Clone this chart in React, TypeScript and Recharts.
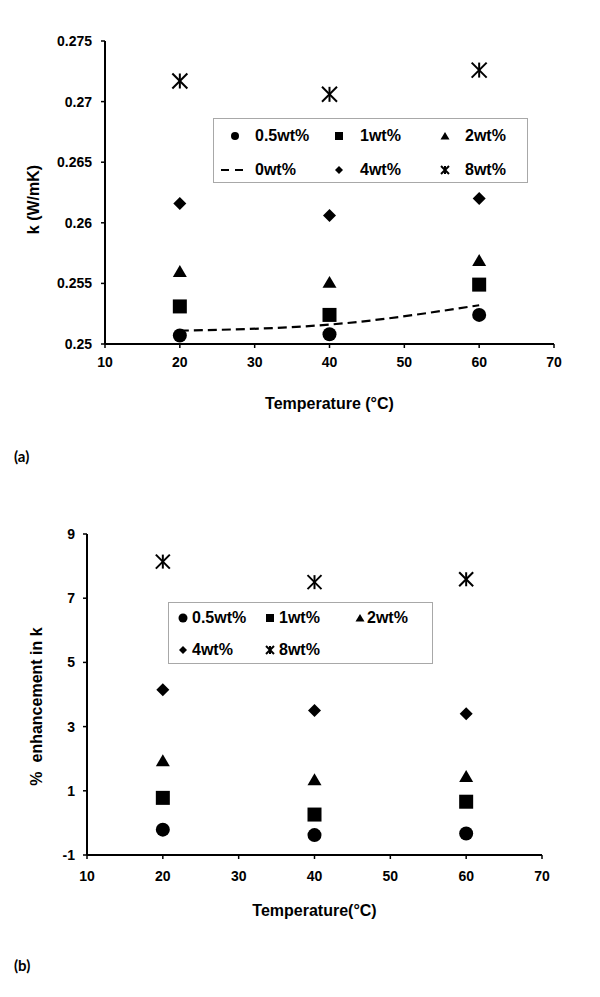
import React from "react";
import { ComposedChart, Scatter, Line, XAxis, YAxis } from "recharts";

const temps = [20, 40, 60];
const xTicks = [10, 20, 30, 40, 50, 60, 70];

// (a) thermal conductivity k (W/mK)
const kZero = [0.2511, 0.2516, 0.2532];
const kHalf = [0.2507, 0.2508, 0.2524];
const kOne = [0.2531, 0.2524, 0.2549];
const kTwo = [0.256, 0.2551, 0.2569];
const kFour = [0.2616, 0.2606, 0.262];
const kEight = [0.2717, 0.2706, 0.2726];
const kTicks = [0.25, 0.255, 0.26, 0.265, 0.27, 0.275];

// (b) % enhancement in k
const enHalf = [-0.21, -0.38, -0.33];
const enOne = [0.78, 0.26, 0.66];
const enTwo = [1.94, 1.35, 1.45];
const enFour = [4.15, 3.5, 3.4];
const enEight = [8.14, 7.5, 7.59];
const enTicks = [-1, 1, 3, 5, 7, 9];

const FONT = "'Liberation Sans', Arial, sans-serif";

const toPoints = (vals: number[]) => temps.map((t, i) => ({ t, v: vals[i] }));

type Kind = "circle" | "square" | "triangle" | "diamond" | "asterisk";

const mark = (kind: Kind, cx: number, cy: number, s: number) => {
  const h = s / 2;
  switch (kind) {
    case "circle":
      return <circle cx={cx} cy={cy} r={h} fill="#000" />;
    case "square":
      return <rect x={cx - h} y={cy - h} width={s} height={s} fill="#000" />;
    case "triangle":
      return (
        <polygon
          points={`${cx},${cy - s * 0.45} ${cx + h},${cy + s * 0.4} ${cx - h},${cy + s * 0.4}`}
          fill="#000"
        />
      );
    case "diamond":
      return <polygon points={`${cx},${cy - h} ${cx + h},${cy} ${cx},${cy + h} ${cx - h},${cy}`} fill="#000" />;
    default:
      return (
        <g stroke="#000" strokeWidth={2}>
          <line x1={cx - h} y1={cy - h} x2={cx + h} y2={cy + h} />
          <line x1={cx - h} y1={cy + h} x2={cx + h} y2={cy - h} />
          <line x1={cx} y1={cy - h} x2={cx} y2={cy + h} />
        </g>
      );
  }
};

const shapeOf = (kind: Kind, s: number) => (p: any) => mark(kind, p.cx, p.cy, s);

const tickStyle = { fill: "#000", fontSize: 14, fontWeight: 700, fontFamily: FONT };
const titleStyle = { fontSize: 16, fontWeight: 700, fontFamily: FONT, textAnchor: "middle" as const };

// rotated y-axis title, x from the left edge of the axis box, shifted down by dy
const yTitle = (text: string, dx: number, dy: number) => (props: any) => {
  const vb = props.viewBox || {};
  const x = vb.x + dx;
  const y = vb.y + vb.height / 2 + dy;
  return (
    <text
      x={x}
      y={y}
      transform={`rotate(-90 ${x} ${y})`}
      textAnchor="middle"
      dominantBaseline="central"
      fill="#000"
      fontSize={16}
      fontWeight={700}
      fontFamily={FONT}
      style={{ whiteSpace: "pre" }}
    >
      {text}
    </text>
  );
};

const seriesA: { name: string; kind: Kind; vals: number[]; size: number }[] = [
  { name: "0.5wt%", kind: "circle", vals: kHalf, size: 14 },
  { name: "1wt%", kind: "square", vals: kOne, size: 14 },
  { name: "2wt%", kind: "triangle", vals: kTwo, size: 14 },
  { name: "4wt%", kind: "diamond", vals: kFour, size: 13 },
  { name: "8wt%", kind: "asterisk", vals: kEight, size: 15 },
];

const seriesB: { name: string; kind: Kind; vals: number[]; size: number }[] = [
  { name: "0.5wt%", kind: "circle", vals: enHalf, size: 14 },
  { name: "1wt%", kind: "square", vals: enOne, size: 14 },
  { name: "2wt%", kind: "triangle", vals: enTwo, size: 14 },
  { name: "4wt%", kind: "diamond", vals: enFour, size: 13 },
  { name: "8wt%", kind: "asterisk", vals: enEight, size: 14 },
];

// legend rows/columns, positions relative to the legend box
type Entry = { label: string; kind: Kind | "dash"; mx: number; lx: number; y: number; s: number };

const legendA: Entry[] = [
  { label: "0.5wt%", kind: "circle", mx: 22, lx: 42, y: 18, s: 8 },
  { label: "1wt%", kind: "square", mx: 126, lx: 147, y: 18, s: 8 },
  { label: "2wt%", kind: "triangle", mx: 232, lx: 252, y: 18, s: 9 },
  { label: "0wt%", kind: "dash", mx: 20, lx: 42, y: 52, s: 8 },
  { label: "4wt%", kind: "diamond", mx: 126, lx: 147, y: 52, s: 8 },
  { label: "8wt%", kind: "asterisk", mx: 232, lx: 252, y: 52, s: 8 },
];

const legendB: Entry[] = [
  { label: "0.5wt%", kind: "circle", mx: 15, lx: 24, y: 16, s: 9 },
  { label: "1wt%", kind: "square", mx: 102, lx: 111, y: 16, s: 8 },
  { label: "2wt%", kind: "triangle", mx: 192, lx: 199, y: 16, s: 9 },
  { label: "4wt%", kind: "diamond", mx: 15, lx: 24, y: 48, s: 8 },
  { label: "8wt%", kind: "asterisk", mx: 102, lx: 111, y: 48, s: 8 },
];

const LegendBox = ({ left, top, width, height, items }: any) => (
  <div
    style={{
      position: "absolute",
      left,
      top,
      width,
      height,
      boxSizing: "border-box",
      border: "1px solid #a8a8a8",
      background: "#fff",
    }}
  >
    <svg width={width} height={height} style={{ position: "absolute", left: -1, top: -1 }}>
      {items.map((it: Entry) =>
        it.kind === "dash" ? (
          <line key={it.label} x1={it.mx - 12} y1={it.y} x2={it.mx + 12} y2={it.y} stroke="#000" strokeWidth={2.2} strokeDasharray="8 6" />
        ) : (
          <g key={it.label}>{mark(it.kind, it.mx, it.y, it.s)}</g>
        )
      )}
    </svg>
    {items.map((it: Entry) => (
      <div
        key={it.label + "t"}
        style={{
          position: "absolute",
          left: it.lx - 1,
          top: it.y - 11,
          lineHeight: "20px",
          fontSize: 16,
          fontWeight: 700,
          fontFamily: FONT,
          whiteSpace: "nowrap",
        }}
      >
        {it.label}
      </div>
    ))}
  </div>
);

const ChartA = () => (
  <ComposedChart width={600} height={440} margin={{ top: 41, right: 46, left: 20, bottom: 66 }} style={{ fontFamily: FONT }}>
    <XAxis
      dataKey="t"
      type="number"
      domain={[10, 70]}
      ticks={xTicks}
      tick={tickStyle}
      tickSize={4}
      tickMargin={9}
      height={30}
      axisLine={{ stroke: "#000", strokeWidth: 2 }}
      tickLine={{ stroke: "#000", strokeWidth: 1.5 }}
      label={{ value: "Temperature (°C)", position: "bottom", offset: 24, fill: "#000", style: titleStyle }}
    />
    <XAxis xAxisId="top" orientation="top" type="number" domain={[10, 70]} height={0} tick={false} tickLine={false} axisLine={{ stroke: "#000", strokeWidth: 1.5 }} />
    <YAxis
      dataKey="v"
      type="number"
      domain={[0.25, 0.275]}
      ticks={kTicks}
      tick={tickStyle}
      tickSize={4}
      tickMargin={9}
      width={85}
      axisLine={{ stroke: "#000", strokeWidth: 2 }}
      tickLine={{ stroke: "#000", strokeWidth: 1.5 }}
      label={{ content: yTitle("k (W/mK)", 13, 7) }}
    />
    <YAxis yAxisId="right" orientation="right" type="number" domain={[0, 1]} width={0} tick={false} tickLine={false} axisLine={{ stroke: "#000", strokeWidth: 1.5 }} />
    <Line
      data={toPoints(kZero)}
      dataKey="v"
      type="monotone"
      stroke="#000"
      strokeWidth={2.2}
      strokeDasharray="9 5"
      dot={false}
      activeDot={false}
      isAnimationActive={false}
    />
    {seriesA.map((s) => (
      <Scatter key={s.name} name={s.name} data={toPoints(s.vals)} dataKey="v" shape={shapeOf(s.kind, s.size)} isAnimationActive={false} />
    ))}
  </ComposedChart>
);

const ChartB = () => (
  <ComposedChart width={600} height={450} margin={{ top: 44, right: 58, left: 20, bottom: 55 }} style={{ fontFamily: FONT }}>
    <XAxis
      dataKey="t"
      type="number"
      domain={[10, 70]}
      ticks={xTicks}
      tick={tickStyle}
      tickSize={4}
      tickMargin={12}
      height={30}
      axisLine={{ stroke: "#000", strokeWidth: 2 }}
      tickLine={{ stroke: "#000", strokeWidth: 1.5 }}
      label={{ value: "Temperature(°C)", position: "bottom", offset: 20, fill: "#000", style: titleStyle }}
    />
    <XAxis xAxisId="top" orientation="top" type="number" domain={[10, 70]} height={0} tick={false} tickLine={false} axisLine={{ stroke: "#000", strokeWidth: 1.5 }} />
    <YAxis
      dataKey="v"
      type="number"
      domain={[-1, 9]}
      ticks={enTicks}
      tick={tickStyle}
      tickSize={4}
      tickMargin={8}
      width={67}
      axisLine={{ stroke: "#000", strokeWidth: 2 }}
      tickLine={{ stroke: "#000", strokeWidth: 1.5 }}
      label={{ content: yTitle("%  enhancement in k", 16, 12) }}
    />
    <YAxis yAxisId="right" orientation="right" type="number" domain={[0, 1]} width={0} tick={false} tickLine={false} axisLine={{ stroke: "#000", strokeWidth: 1.5 }} />
    {seriesB.map((s) => (
      <Scatter key={s.name} name={s.name} data={toPoints(s.vals)} dataKey="v" shape={shapeOf(s.kind, s.size)} isAnimationActive={false} />
    ))}
  </ComposedChart>
);

const panelTag = { position: "absolute" as const, left: 14, fontFamily: "Lato, sans-serif", fontWeight: 700, fontSize: 15, lineHeight: "18px" };

export default function App() {
  return (
    <div style={{ position: "absolute", left: 0, top: 0, width: 600, height: 997, background: "#fff", overflow: "hidden" }}>
      <div style={{ position: "absolute", left: 0, top: 0 }}>
        <ChartA />
      </div>
      <LegendBox left={213} top={118} width={315} height={65} items={legendA} />
      <div style={{ ...panelTag, top: 447 }}>(a)</div>
      <div style={{ position: "absolute", left: 0, top: 490 }}>
        <ChartB />
      </div>
      <LegendBox left={168} top={602} width={265} height={62} items={legendB} />
      <div style={{ ...panelTag, top: 956 }}>(b)</div>
    </div>
  );
}
